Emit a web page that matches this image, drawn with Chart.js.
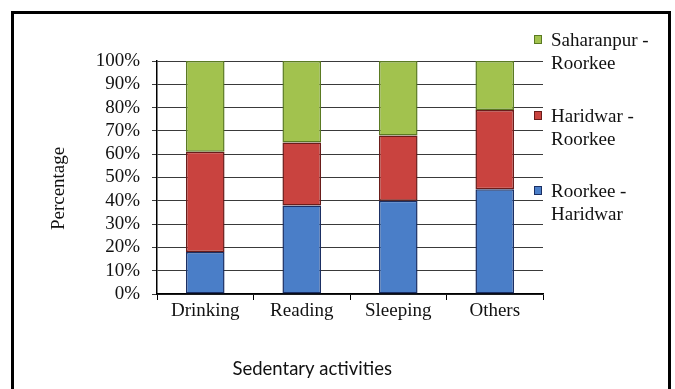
<!DOCTYPE html>
<html>
<head>
<meta charset="utf-8">
<script src="https://cdn.jsdelivr.net/npm/chart.js@4/dist/chart.umd.min.js"></script>
<style>
  html, body { margin: 0; padding: 0; background: #fff; }
  #wrap { position: relative; width: 675px; height: 389px; overflow: hidden; }
  #wrap canvas { position: absolute; left: 0; top: 0; }
  #frame { position: absolute; left: 11px; top: 11px; width: 654px; height: 400px;
           border: 3px solid #000; box-sizing: content-box; pointer-events: none; }
  #legend { position: absolute; left: 534px; top: 0; font-family: "Liberation Serif", "Times New Roman", serif;
            font-size: 19px; line-height: 23px; color: #111; }
  .item { position: absolute; left: 0; white-space: nowrap; }
  .swatch { position: absolute; left: 0; top: 7px; width: 6px; height: 7px; border: 1px solid; }
  .text { position: absolute; left: 17px; top: 0; }
</style>
</head>
<body>
<div id="wrap">
  <canvas id="c" width="675" height="389"></canvas>
  <div id="legend"></div>
  <div id="frame"></div>
</div>
<script>
// Share of trips per sedentary activity, by route (each column sums to 100%)
const categories = ['Drinking', 'Reading', 'Sleeping', 'Others'];
const seriesNames = ['Roorkee - Haridwar', 'Haridwar - Roorkee', 'Saharanpur - Roorkee'];
const roorkeeHaridwar = [18, 38, 40, 45];
const haridwarRoorkee = [43, 27, 28, 34];
const saharanpurRoorkee = [39, 35, 32, 21];
const yTickValues = [0, 10, 20, 30, 40, 50, 60, 70, 80, 90, 100];
const xTitle = 'Sedentary activities';
const yTitle = 'Percentage';

const fills   = ['#4a7ec8', '#c9433f', '#a2c24e'];
const borders = ['#1b2f63', '#6a1c1a', '#5a7a22'];

const SERIF = '"Liberation Serif", serif';

// Legend on the right: last series on top, each label wrapped after its dash
function buildLegend(chart) {
  const box = document.getElementById('legend');
  box.innerHTML = '';
  const ds = chart.data.datasets;
  for (let k = 0; k < ds.length; k++) {
    const d = ds[ds.length - 1 - k];
    const item = document.createElement('div');
    item.className = 'item';
    item.style.top = (28 + k * 75.5) + 'px';
    const sw = document.createElement('div');
    sw.className = 'swatch';
    sw.style.background = d.backgroundColor;
    sw.style.borderColor = d.borderColor;
    const tx = document.createElement('div');
    tx.className = 'text';
    tx.innerHTML = d.label.replace(' - ', ' -<br>');
    item.appendChild(sw);
    item.appendChild(tx);
    box.appendChild(item);
  }
}

// Axis titles drawn on the chart canvas
const axisTitles = {
  id: 'axisTitles',
  afterDraw(chart) {
    const { ctx, chartArea } = chart;
    ctx.save();
    ctx.fillStyle = '#111';
    ctx.textAlign = 'center';
    ctx.textBaseline = 'middle';

    ctx.save();
    ctx.translate(59, chartArea.top + (chartArea.bottom - chartArea.top) * 0.547);
    ctx.rotate(-Math.PI / 2);
    ctx.font = 'normal 19px ' + SERIF;
    ctx.fillText(yTitle, 0, 0);
    ctx.restore();

    ctx.font = 'normal 18.5px Lato, sans-serif';
    ctx.fillText(xTitle, chartArea.left + (chartArea.right - chartArea.left) * 0.402, 369);
    ctx.restore();
  }
};

const seriesValues = [roorkeeHaridwar, haridwarRoorkee, saharanpurRoorkee];

const chart = new Chart(document.getElementById('c'), {
  type: 'bar',
  data: {
    labels: categories,
    datasets: seriesNames.map((name, i) => ({
      label: name,
      data: seriesValues[i],
      backgroundColor: fills[i],
      borderColor: borders[i],
      borderWidth: 1.5,
      borderSkipped: false,
      categoryPercentage: 1,
      barPercentage: 0.4
    }))
  },
  options: {
    responsive: false,
    animation: false,
    devicePixelRatio: 1,
    layout: { padding: { left: 0, right: 132, top: 61, bottom: 0 } },
    plugins: {
      legend: { display: false },
      tooltip: { enabled: false },
      title: { display: false }
    },
    scales: {
      x: {
        stacked: true,
        afterFit(scale) { scale.height = 95; },
        grid: {
          offset: true,
          drawOnChartArea: false,
          drawTicks: true,
          tickLength: 6,
          color: '#000',
          lineWidth: 1
        },
        border: { color: '#000', width: 1.5 },
        ticks: {
          color: '#111',
          font: { family: SERIF, size: 19 },
          padding: 0,
          maxRotation: 0
        }
      },
      y: {
        stacked: true,
        min: 0,
        max: 100,
        afterFit(scale) { scale.width = 157; },
        afterBuildTicks(scale) { scale.ticks = yTickValues.map(v => ({ value: v })); },
        grid: {
          color: '#3a3a3a',
          lineWidth: 1,
          drawTicks: true,
          tickLength: 5
        },
        border: { color: '#000', width: 1.5 },
        ticks: {
          color: '#111',
          autoSkip: false,
          font: { family: SERIF, size: 19 },
          padding: 12,
          callback: v => v + '%'
        }
      }
    }
  },
  plugins: [axisTitles]
});
buildLegend(chart);
</script>
</body>
</html>
